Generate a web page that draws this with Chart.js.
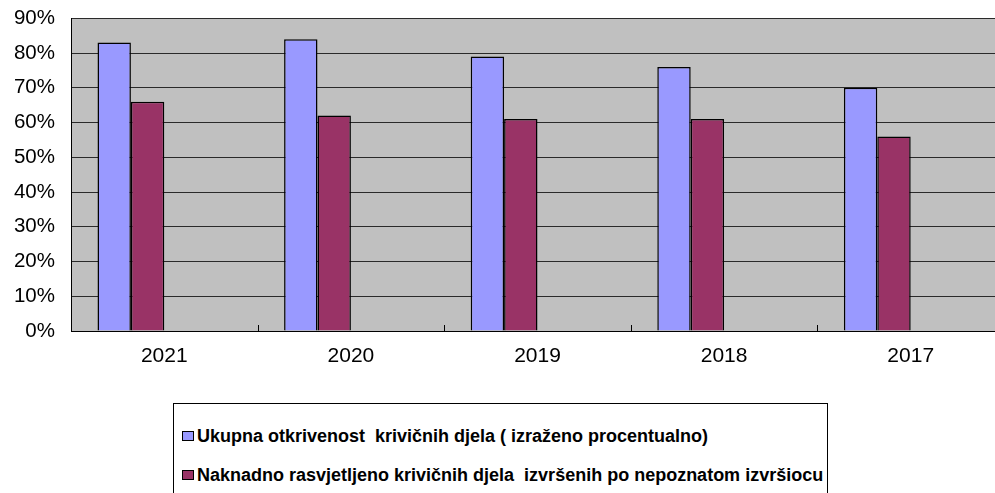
<!DOCTYPE html>
<html>
<head>
<meta charset="utf-8">
<script src="https://cdn.jsdelivr.net/npm/chart.js@4.4.1/dist/chart.umd.min.js"></script>
<style>
  html, body { margin: 0; padding: 0; background: #fff; overflow: hidden; width: 995px; height: 493px; }
  #wrap { position: absolute; left: 0; top: 0; width: 1010px; }
  #legend { position: absolute; left: 173px; top: 403px; width: 653px; height: 120px; border: 1px solid #000; background: #fff;
            font-family: "Liberation Sans", Arial, sans-serif; font-weight: bold; font-size: 18px; color: #000; }
  .item { position: absolute; left: 8px; height: 20px; line-height: 20px; white-space: pre; }
  .sw { display: inline-block; width: 10px; height: 8px; border: 1px solid #000; margin-right: 3px; vertical-align: 1px; }
</style>
</head>
<body>
<div id="wrap"></div>
<div id="legend"></div>
<script>
const categories = ["2021", "2020", "2019", "2018", "2017"];
const seriesNames = [
  "Ukupna otkrivenost  krivičnih djela ( izraženo procentualno)",
  "Naknadno rasvjetljeno krivičnih djela  izvršenih po nepoznatom izvršiocu"
];
const otkrivenost = [83, 84, 79, 76, 70];
const naknadno = [66, 62, 61, 61, 56];
const emptySeries = [null, null, null, null, null];
const yTicks = [0, 10, 20, 30, 40, 50, 60, 70, 80, 90];
const colors = ["#9999FF", "#993366"];

const PLOT_TOP = 18, PLOT_BOTTOM = 331, XAXIS_H = 44, CANVAS_W = 1010;

const plotBg = {
  id: 'plotBg',
  beforeDraw(chart) {
    const { ctx, chartArea: a } = chart;
    ctx.save();
    ctx.fillStyle = '#C0C0C0';
    ctx.fillRect(a.left, a.top, a.right - a.left, a.bottom - a.top);
    ctx.restore();
  },
  afterDatasetsDraw(chart) {
    const { ctx, chartArea: a } = chart;
    const xs = chart.scales.x;
    ctx.save();
    ctx.strokeStyle = '#000';
    ctx.lineWidth = 1;
    ctx.beginPath();
    for (let i = 1; i < categories.length; i++) {
      const x = Math.round((xs.getPixelForValue(i - 1) + xs.getPixelForValue(i)) / 2) + 0.5;
      ctx.moveTo(x, a.bottom - 6);
      ctx.lineTo(x, a.bottom);
    }
    ctx.stroke();
    ctx.restore();
  }
};

function build(height) {
  const wrap = document.getElementById('wrap');
  wrap.innerHTML = '';
  const cv = document.createElement('canvas');
  cv.width = CANVAS_W;
  cv.height = height;
  cv.style.width = CANVAS_W + 'px';
  cv.style.height = height + 'px';
  wrap.appendChild(cv);
  return new Chart(cv, {
    type: 'bar',
    data: {
      labels: categories,
      datasets: [
        { label: seriesNames[0], data: otkrivenost, backgroundColor: colors[0], borderColor: '#000', borderWidth: 1.5 },
        { label: seriesNames[1], data: naknadno, backgroundColor: colors[1], borderColor: '#000', borderWidth: 1.5 },
        { label: '', data: emptySeries, backgroundColor: '#fff', borderColor: '#000', borderWidth: 1 },
        { label: '', data: emptySeries, backgroundColor: '#fff', borderColor: '#000', borderWidth: 1 }
      ]
    },
    options: {
      responsive: false,
      animation: false,
      events: [],
      layout: { padding: { left: 0, right: 6, top: 0, bottom: 0 } },
      datasets: { bar: { categoryPercentage: 0.716, barPercentage: 1.0 } },
      plugins: { legend: { display: false }, tooltip: { enabled: false } },
      scales: {
        y: {
          min: 0, max: 90,
          afterFit(s) { s.width = 71; },
          afterBuildTicks(s) { s.ticks = yTicks.map(v => ({ value: v })); },
          ticks: {
            padding: 16,
            color: '#000',
            font: { family: '"Liberation Sans", Arial, sans-serif', size: 20.5 },
            callback: v => v + '%'
          },
          grid: { color: '#2a2a2a', lineWidth: 1, drawTicks: false },
          border: { display: true, color: '#000', width: 1 }
        },
        x: {
          afterFit(s) { s.height = XAXIS_H; },
          ticks: {
            padding: 13,
            color: '#000',
            font: { family: '"Liberation Sans", Arial, sans-serif', size: 21 }
          },
          grid: { display: false, drawTicks: false },
          border: { display: true, color: '#000', width: 1 }
        }
      }
    },
    plugins: [plotBg]
  });
}

// first pass: find where the plot frame starts inside the canvas, then rebuild so it lands on the reference frame
let chart = build(380);
const topInCanvas = chart.chartArea.top;
chart.destroy();
document.getElementById('wrap').style.top = (PLOT_TOP - topInCanvas) + 'px';
chart = build(Math.round(PLOT_BOTTOM - PLOT_TOP + topInCanvas + XAXIS_H));

const legend = document.getElementById('legend');
seriesNames.forEach((name, i) => {
  const d = document.createElement('div');
  d.className = 'item';
  d.style.top = (i === 0 ? 22 : 61) + 'px';
  const sw = document.createElement('span');
  sw.className = 'sw';
  sw.style.background = colors[i];
  d.appendChild(sw);
  d.appendChild(document.createTextNode(name));
  legend.appendChild(d);
});
</script>
</body>
</html>
